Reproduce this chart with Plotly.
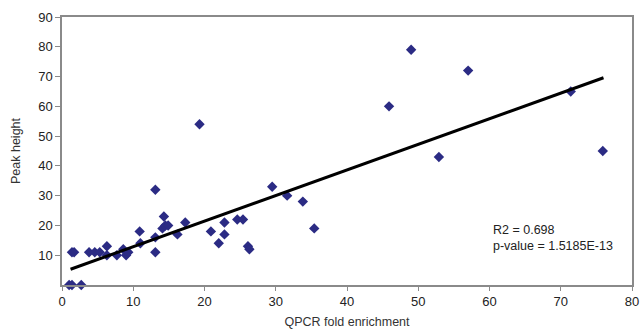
import plotly.graph_objects as go

qpcr = [1.0, 1.4, 2.7, 1.4, 1.7, 3.8, 4.6, 5.3, 6.3, 6.3, 7.7, 8.6, 9.0, 9.3,
        10.9, 11.0, 13.1, 13.1, 13.1, 14.3, 14.1, 14.5, 14.9, 16.2, 17.3, 19.3,
        20.9, 22.0, 22.8, 22.8, 24.6, 25.4, 26.1, 26.3, 29.5, 31.6, 33.8, 35.4,
        45.9, 49.0, 52.9, 57.0, 71.4, 75.9]
peak = [0, 0, 0, 11, 11, 11, 11, 11, 13, 10, 10, 12, 10, 11,
        18, 14, 32, 16, 11, 23, 19, 20, 20, 17, 21, 54,
        18, 14, 21, 17, 22, 22, 13, 12, 33, 30, 28, 19,
        60, 79, 43, 72, 65, 45]

trend_x = [1.2, 76.0]
trend_y = [5.3, 69.6]

x_ticks = [0, 10, 20, 30, 40, 50, 60, 70, 80]
y_ticks = [10, 20, 30, 40, 50, 60, 70, 80, 90]

stats_text = "R2 = 0.698<br>p-value = 1.5185E-13"

font = "Liberation Sans, Arial, sans-serif"
axis_col = "#8a8a8a"

fig = go.Figure()
fig.add_trace(go.Scatter(x=qpcr, y=peak, mode="markers",
                         marker=dict(symbol="diamond", size=8, color="#2b2b84"),
                         cliponaxis=False, showlegend=False))
fig.add_trace(go.Scatter(x=trend_x, y=trend_y, mode="lines",
                         line=dict(color="black", width=3), showlegend=False))

fig.add_annotation(x=60.2, y=21.5, xref="x", yref="y", text=stats_text,
                   showarrow=False, xanchor="left", yanchor="top", align="left",
                   font=dict(family=font, size=12.5, color="#222"))

fig.update_layout(
    width=640, height=332,
    margin=dict(l=62, r=8, t=17, b=47, autoexpand=False),
    paper_bgcolor="white", plot_bgcolor="white",
    font=dict(family=font, size=12, color="#222"),
)
fig.update_xaxes(range=[0, 80], tickvals=x_ticks, showgrid=False, zeroline=False,
                 showline=True, linecolor=axis_col, linewidth=1.5, mirror=True,
                 ticks="outside", ticklen=4, tickcolor=axis_col, automargin=False,
                 ticklabeloverflow="allow",
                 title=dict(text="QPCR fold enrichment", standoff=9,
                            font=dict(size=12.5, color="#333")),
                 tickfont=dict(size=13, color="#222"))
fig.update_yaxes(range=[0, 90], tickvals=y_ticks, showgrid=False, zeroline=False,
                 showline=True, linecolor=axis_col, linewidth=1.5, mirror=True,
                 ticks="outside", ticklen=5, tickcolor=axis_col, automargin=False,
                 title=dict(text="Peak height", standoff=15,
                            font=dict(size=12.5, color="#333")),
                 tickfont=dict(size=13, color="#222"))

fig.write_html("out.html",
               config={"displayModeBar": False},
               post_script="document.body.style.margin='0';document.body.style.overflow='hidden';")
